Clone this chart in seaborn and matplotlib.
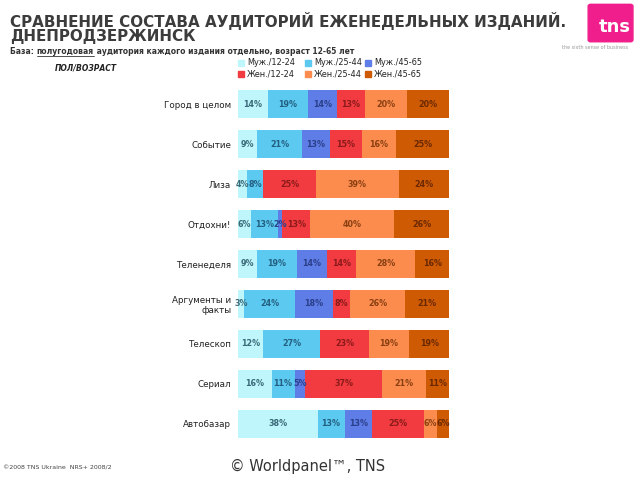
import numpy as np
import pandas as pd
import matplotlib
matplotlib.use("Agg")
import matplotlib.pyplot as plt
import seaborn as sns
from matplotlib.patches import FancyBboxPatch

# данные
publications = ["Город в целом", "Событие", "Лиза", "Отдохни!", "Теленеделя",
                "Аргументы и\nфакты", "Телескоп", "Сериал", "Автобазар"]
groups = ["Муж./12-24", "Муж./25-44", "Муж./45-65",
          "Жен./12-24", "Жен./25-44", "Жен./45-65"]
m_12_24 = [14, 9, 4, 6, 9, 3, 12, 16, 38]
m_25_44 = [19, 21, 8, 13, 19, 24, 27, 11, 13]
m_45_65 = [14, 13, 0, 2, 14, 18, 0, 5, 13]
f_12_24 = [13, 15, 25, 13, 14, 8, 23, 37, 25]
f_25_44 = [20, 16, 39, 40, 28, 26, 19, 21, 6]
f_45_65 = [20, 25, 24, 26, 16, 21, 19, 11, 6]

colors = ["#bff6fb", "#5cc9f0", "#5f7de6", "#f23b40", "#fb8c4e", "#cf5a04"]
text_colors = ["#3a6a78", "#235f80", "#2a3f8a", "#8a1a1a", "#8a3f12", "#6a2800"]

sns.set_theme(style="white")
plt.rcParams["font.family"] = ["DejaVu Sans"]

df = pd.DataFrame(
    np.array([m_12_24, m_25_44, m_45_65, f_12_24, f_25_44, f_45_65]).T,
    columns=groups)
df["pub"] = publications
vals = df[groups].to_numpy(dtype=float)
vals = vals / vals.sum(axis=1, keepdims=True) * 100  # доли на всю ширину
cum = np.cumsum(vals, axis=1)

fig = plt.figure(figsize=(6.4, 4.8), dpi=100)
ax = fig.add_axes([0.372, 0.071, 0.33, 0.758])

# накладываем накопленные суммы справа налево
for i in range(len(groups) - 1, -1, -1):
    plot_df = pd.DataFrame({"pub": publications, "x": cum[:, i]})
    sns.barplot(data=plot_df, x="x", y="pub", orient="h", color=colors[i],
                saturation=1, width=0.7, ax=ax, linewidth=0)

for r in range(len(publications)):
    for i in range(len(groups)):
        raw = df[groups[i]].iloc[r]
        if raw == 0:
            continue
        c = cum[r, i] - vals[r, i] / 2
        ax.text(c, r, f"{raw}%", ha="center", va="center", fontsize=5.8,
                fontweight="bold", color=text_colors[i])

ax.set_xlim(0, 100)
ax.set_ylim(len(publications) - 0.45, -0.55)
ax.set_xlabel("")
ax.set_ylabel("")
ax.set_xticks([])
ax.tick_params(axis="y", length=0, pad=5, labelsize=6.3, labelcolor="#222222")
for s in ax.spines.values():
    s.set_visible(False)

# заголовок
fig.text(0.016, 0.975, "СРАВНЕНИЕ СОСТАВА АУДИТОРИЙ ЕЖЕНЕДЕЛЬНЫХ ИЗДАНИЙ.\nДНЕПРОДЗЕРЖИНСК",
         ha="left", va="top", fontsize=10.9, fontweight="bold", color="#3c3c3c",
         linespacing=0.95)

# подзаголовок из трёх частей, "полугодовая" подчёркнута
renderer = fig.canvas.get_renderer()
x0 = 0.016
parts = ["База: ", "полугодовая", " аудитория каждого издания отдельно, возраст 12-65 лет"]
for k, p in enumerate(parts):
    t = fig.text(x0, 0.892, p, ha="left", va="center", fontsize=5.5,
                 color="#333333", fontweight="bold")
    bb = t.get_window_extent(renderer).transformed(fig.transFigure.inverted())
    if k == 1:
        fig.add_artist(plt.Line2D([bb.x0, bb.x1], [bb.y0 + 0.001, bb.y0 + 0.001],
                                  color="#333333", lw=0.6, transform=fig.transFigure))
    x0 = bb.x1

fig.text(0.085, 0.858, "ПОЛ/ВОЗРАСТ", ha="left", va="center", fontsize=5.5,
         fontweight="bold", fontstyle="italic", color="#222222")

# легенда
leg_x = [0.372, 0.477, 0.570]
leg_y = [0.869, 0.846]
for i, g in enumerate(groups):
    x = leg_x[i % 3]
    y = leg_y[i // 3]
    fig.patches.append(plt.Rectangle((x, y - 0.006), 0.009, 0.012, color=colors[i],
                                     transform=fig.transFigure, figure=fig))
    fig.text(x + 0.014, y, g, ha="left", va="center", fontsize=5.9, color="#222222")

# логотип
fig.patches.append(FancyBboxPatch((0.923, 0.917), 0.062, 0.07,
                                  boxstyle="round,pad=0.004", color="#f01e8c",
                                  transform=fig.transFigure, figure=fig))
fig.text(0.986, 0.925, "tns", ha="right", va="bottom", fontsize=13, fontweight="bold",
         color="white")
fig.text(0.982, 0.902, "the sixth sense of business", ha="right", va="center",
         fontsize=3.5, color="#999999")

# подвал
fig.text(0.005, 0.025, "©2008 TNS Ukraine  NRS+ 2008/2", ha="left", va="center",
         fontsize=4.5, color="#444444")
fig.text(0.36, 0.028, "© Worldpanel™, TNS", ha="left", va="center", fontsize=10.5,
         color="#333333")

fig.savefig("out.png", dpi=100)
